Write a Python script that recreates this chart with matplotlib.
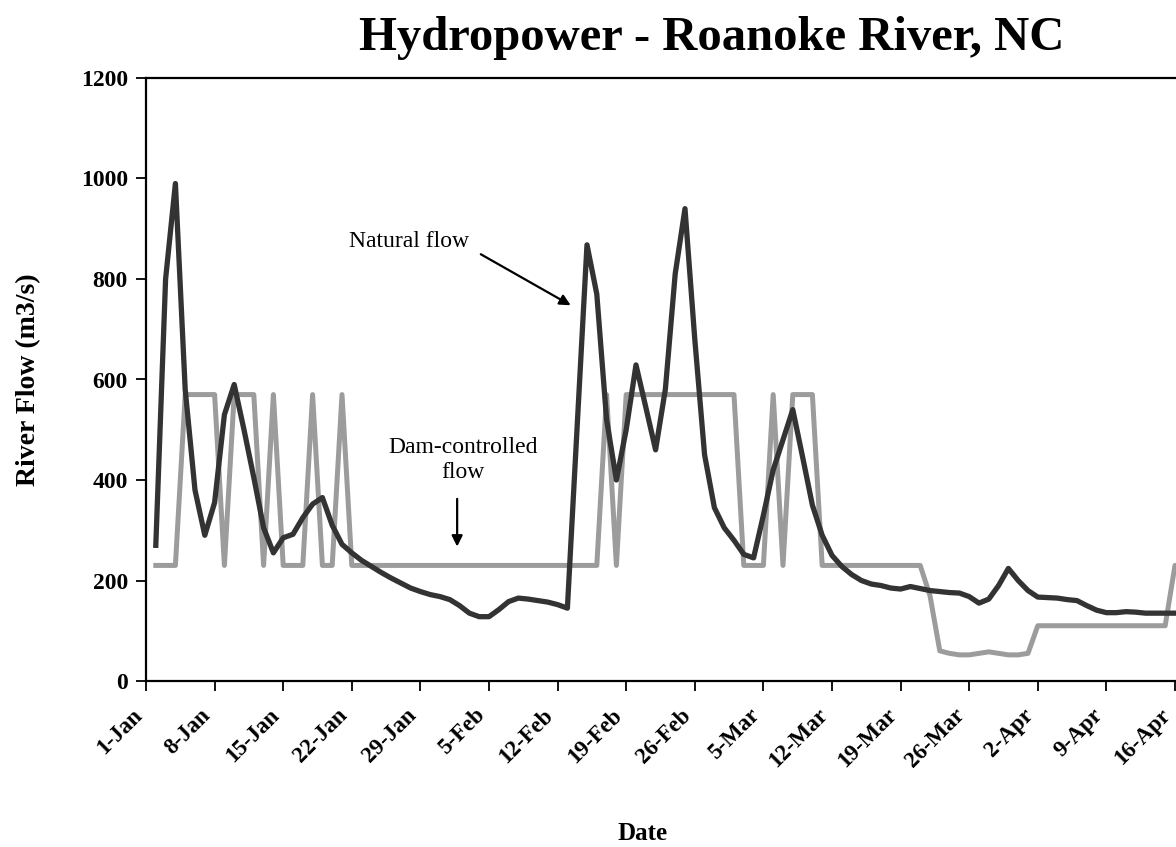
import pandas as pd
import matplotlib
matplotlib.use("Agg")
import matplotlib.pyplot as plt

# daily flows (m3/s) starting 2-Jan
start_date = "2007-01-02"
natural_flow = [
    270, 800, 990, 580, 380, 290, 355, 530, 590, 500,
    405, 305, 255, 285, 292, 325, 352, 365, 310, 272,
    255, 240, 228, 216, 205, 195, 185, 178, 172, 168,
    162, 150, 135, 128, 128, 142, 158, 165, 163, 160,
    157, 152, 145, 508, 868, 770, 520, 400, 500, 629,
    545, 460, 581, 810, 940, 680, 450, 345, 305, 280,
    252, 245, 330, 420, 480, 540, 446, 350, 290, 250,
    228, 212, 200, 193, 190, 185, 183, 188, 184, 180,
    178, 176, 175, 168, 155, 163, 190, 224, 200, 180,
    167, 166, 165, 162, 160, 150, 141, 136, 136, 138,
    137, 135, 135, 135, 135, 135,
]
dam_flow = [
    230, 230, 230, 570, 570, 570, 570, 230, 570, 570,
    570, 230, 570, 230, 230, 230, 570, 230, 230, 570,
    230, 230, 230, 230, 230, 230, 230, 230, 230, 230,
    230, 230, 230, 230, 230, 230, 230, 230, 230, 230,
    230, 230, 230, 230, 230, 230, 570, 230, 570, 570,
    570, 570, 570, 570, 570, 570, 570, 570, 570, 570,
    230, 230, 230, 570, 230, 570, 570, 570, 230, 230,
    230, 230, 230, 230, 230, 230, 230, 230, 230, 170,
    60, 55, 52, 52, 55, 58, 55, 52, 52, 55,
    110, 110, 110, 110, 110, 110, 110, 110, 110, 110,
    110, 110, 110, 110, 230, 230,
]
tick_labels = ["1-Jan", "8-Jan", "15-Jan", "22-Jan", "29-Jan", "5-Feb", "12-Feb",
               "19-Feb", "26-Feb", "5-Mar", "12-Mar", "19-Mar", "26-Mar", "2-Apr",
               "9-Apr", "16-Apr"]
y_ticks = [0, 200, 400, 600, 800, 1000, 1200]

dates = pd.date_range(start_date, periods=len(natural_flow), freq="D")
tick_dates = pd.date_range("2007-01-01", periods=len(tick_labels), freq="7D")

plt.rcParams["font.family"] = ["Liberation Serif", "DejaVu Serif"]

fig = plt.figure(figsize=(11.76, 8.47), dpi=100)
ax = fig.add_axes([146 / 1176, 166 / 847, 1030 / 1176, 603 / 847])

ax.plot(dates, dam_flow, color="#9c9c9c", lw=3.6)
ax.plot(dates, natural_flow, color="#333333", lw=3.8)

ax.set_xlim(pd.Timestamp("2007-01-01"), pd.Timestamp("2007-04-16 02:30"))
ax.set_ylim(0, 1200)
ax.set_yticks(y_ticks)
ax.set_yticklabels([str(v) for v in y_ticks], fontsize=17, fontweight="bold")
ax.set_xticks(tick_dates)
ax.set_xticklabels(tick_labels, rotation=45, ha="right", va="top",
                   fontsize=16.5, fontweight="bold")
ax.tick_params(axis="both", direction="out", length=7, width=1.3, pad=6)
ax.tick_params(axis="x", pad=10)

for side in ["left", "top", "bottom"]:
    ax.spines[side].set_linewidth(1.6)
ax.spines["right"].set_visible(False)

ax.set_ylabel("River Flow (m3/s)", fontsize=20, fontweight="bold")
ax.yaxis.set_label_coords(-0.102, 0.5)
ax.set_xlabel("Date", fontsize=18, fontweight="bold")
ax.xaxis.set_label_coords(0.4825, -0.234)

fig.text(712 / 1176, 1 - 38 / 847, "Hydropower - Roanoke River, NC",
         fontsize=35, fontweight="bold", ha="center", va="center")

# annotations
ax.text(pd.Timestamp("2007-01-27 20:00"), 874, "Natural flow", fontsize=17,
        ha="center", va="center")
ax.annotate("", xy=(pd.Timestamp("2007-02-13 14:00"), 745),
            xytext=(pd.Timestamp("2007-02-03 22:00"), 852),
            arrowprops=dict(arrowstyle="-|>", color="black", lw=1.6, mutation_scale=16))
ax.text(pd.Timestamp("2007-02-02 08:00"), 440, "Dam-controlled\nflow", fontsize=17,
        ha="center", va="center", linespacing=1.2)
ax.annotate("", xy=(pd.Timestamp("2007-02-01 18:00"), 262),
            xytext=(pd.Timestamp("2007-02-01 18:00"), 368),
            arrowprops=dict(arrowstyle="-|>", color="black", lw=1.6, mutation_scale=16))

fig.savefig("out.png", dpi=100)
